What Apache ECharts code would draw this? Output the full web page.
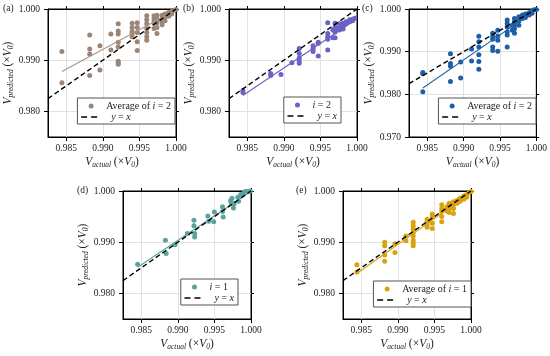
<!DOCTYPE html>
<html><head><meta charset="utf-8">
<script src="https://cdn.jsdelivr.net/npm/echarts@6/dist/echarts.min.js"></script>
<style>html,body{margin:0;padding:0;background:#fff}#c{width:550px;height:356px}</style>
</head><body><div id="c"></div>
<script>
// ---- data ----
const xTickLabels = [0.985, 0.990, 0.995, 1.000];
const yTickLabels = [0.980, 0.990, 1.000];
const yTickLabelsC = [0.970, 0.980, 0.990, 1.000];
const diagLine = [[0.9825, 0.9825], [1.0, 1.0]];

const ptsA = [[0.9844,0.9917],[0.9844,0.9856],
[0.9882,0.9949],[0.9882,0.9922],[0.9882,0.9912],[0.9882,0.9870],
[0.9896,0.9928],[0.9896,0.9881],
[0.9911,0.9951],[0.9911,0.9920],
[0.9921,0.9971],[0.9921,0.9957],[0.9921,0.9951],[0.9921,0.9935],[0.9921,0.9926],[0.9921,0.9898],[0.9921,0.9895],[0.9921,0.9892],
[0.9940,0.9972],[0.9940,0.9964],[0.9940,0.9956],[0.9940,0.9952],[0.9940,0.9946],
[0.9947,0.9973],[0.9947,0.9964],[0.9947,0.9954],[0.9947,0.9936],[0.9947,0.9919],
[0.9960,0.9987],[0.9960,0.9979],[0.9960,0.9971],[0.9960,0.9962],[0.9960,0.9954],[0.9960,0.9946],[0.9960,0.9939],
[0.9970,0.9987],[0.9970,0.9982],[0.9970,0.9977],[0.9970,0.9972],[0.9970,0.9962],
[0.9974,0.9988],[0.9974,0.9980],[0.9974,0.9973],[0.9974,0.9964],[0.9974,0.9952],
[0.9981,0.9988],[0.9981,0.9982],[0.9981,0.9975],[0.9981,0.9969],
[0.9985,0.9990],[0.9985,0.9984],[0.9985,0.9977],
[0.9990,0.9993],[0.9990,0.9986],
[0.9994,0.9995],[0.9994,0.9990],
[0.9997,0.9997],[1.0,0.9999]];
const fitA = [[0.9844,0.9878],[1.0,0.9998]];

const ptsB = [[0.9844,0.9841],[0.9844,0.9837],
[0.9882,0.9874],[0.9882,0.9870],
[0.9896,0.9872],
[0.9911,0.9895],
[0.9921,0.9923],[0.9921,0.9913],[0.9921,0.9904],[0.9921,0.9898],[0.9921,0.9894],
[0.9940,0.9928],[0.9940,0.9923],[0.9940,0.9917],
[0.9947,0.9935],[0.9947,0.9933],[0.9947,0.9908],
[0.9960,0.9973],[0.9960,0.9952],[0.9960,0.9946],[0.9960,0.9941],[0.9960,0.9920],
[0.9967,0.9959],[0.9967,0.9944],
[0.9970,0.9972],[0.9970,0.9965],[0.9970,0.9960],[0.9970,0.9955],[0.9970,0.9944],
[0.9976,0.9971],[0.9976,0.9964],[0.9976,0.9959],
[0.9981,0.9972],[0.9981,0.9967],[0.9981,0.9961],
[0.9985,0.9975],[0.9985,0.9971],
[0.9990,0.9979],[0.9990,0.9975],
[0.9994,0.9980],[0.9994,0.9977],
[0.9997,0.9982]];
const fitB = [[0.9844,0.9831],[1.0,0.9981]];

const ptsC = [[0.9844,0.9851],[0.9844,0.9848],[0.9844,0.9806],
[0.9882,0.9895],[0.9882,0.9872],[0.9882,0.9866],[0.9882,0.9830],
[0.9896,0.9876],[0.9896,0.9838],
[0.9911,0.9906],[0.9911,0.9878],
[0.9921,0.9936],[0.9921,0.9923],[0.9921,0.9911],[0.9921,0.9893],[0.9921,0.9877],[0.9921,0.9859],
[0.9940,0.9943],[0.9940,0.9935],[0.9940,0.9929],[0.9940,0.9911],[0.9940,0.9903],
[0.9947,0.9950],[0.9947,0.9937],[0.9947,0.9927],[0.9947,0.9901],
[0.9960,0.9974],[0.9960,0.9966],[0.9960,0.9958],[0.9960,0.9946],[0.9960,0.9939],[0.9960,0.9911],
[0.9967,0.9962],[0.9967,0.9950],
[0.9970,0.9978],[0.9970,0.9970],[0.9970,0.9962],[0.9970,0.9954],[0.9970,0.9943],
[0.9976,0.9982],[0.9976,0.9972],[0.9976,0.9962],
[0.9981,0.9986],[0.9981,0.9978],
[0.9985,0.9988],[0.9985,0.9980],
[0.9990,0.9991],[0.9990,0.9986],
[0.9994,0.9995],[0.9994,0.9990],
[0.9997,0.9998],[1.0,0.9999]];
const fitC = [[0.9844,0.9815],[1.0,0.9998]];

const ptsD = [[0.9845,0.9857],[0.9883,0.9904],[0.9884,0.9878],[0.9896,0.9895],[0.9913,0.9917],
[0.9922,0.9943],[0.9922,0.9932],[0.9923,0.9917],[0.9923,0.9910],
[0.9941,0.9951],[0.9942,0.9941],[0.9949,0.9940],[0.9950,0.9959],
[0.9961,0.9969],[0.9961,0.9960],[0.9962,0.9949],
[0.9972,0.9981],[0.9974,0.9986],[0.9973,0.9977],[0.9976,0.9967],[0.9977,0.9975],
[0.9982,0.9988],[0.9983,0.9980],[0.9986,0.9993],[0.9989,0.9994],[0.9991,0.9998],
[0.9993,0.9999],[0.9996,0.9999],[0.9999,1.0]];
const fitD = [[0.9845,0.9851],[1.0,0.9999]];

const ptsE = [[0.9844,0.9856],[0.9844,0.9842],
[0.9882,0.9900],[0.9882,0.9893],[0.9882,0.9875],[0.9882,0.9863],
[0.9896,0.9897],[0.9896,0.9880],
[0.9911,0.9912],[0.9911,0.9903],
[0.9921,0.9939],[0.9921,0.9932],[0.9921,0.9926],[0.9921,0.9919],[0.9921,0.9912],[0.9921,0.9904],[0.9921,0.9898],[0.9921,0.9893],
[0.9940,0.9945],[0.9940,0.9940],[0.9940,0.9934],[0.9940,0.9929],
[0.9947,0.9955],[0.9947,0.9949],[0.9947,0.9937],[0.9947,0.9927],
[0.9960,0.9973],[0.9960,0.9966],[0.9960,0.9960],[0.9960,0.9950],[0.9960,0.9940],
[0.9967,0.9969],[0.9967,0.9961],
[0.9970,0.9976],[0.9970,0.9971],[0.9970,0.9965],[0.9970,0.9958],
[0.9976,0.9979],[0.9976,0.9973],[0.9976,0.9966],[0.9976,0.9956],
[0.9981,0.9982],[0.9981,0.9976],
[0.9985,0.9986],[0.9985,0.9980],
[0.9990,0.9990],[0.9990,0.9984],
[0.9994,0.9993],[0.9994,0.9988],
[0.9997,0.9996],[1.0,0.9999]];
const fitE = [[0.9844,0.9839],[1.0,0.9997]];

// ---- layout / style ----
const F = 'Liberation Serif';
const TXT = '#222';
const panels = [
  {id:'a', left:48,  top:9,   pts:ptsA, fit:fitA, color:'#9b8576', fitColor:'#ab9383', ymin:0.975, yl:yTickLabels,  leg:'Average of |2', legRight:375, legTop:98},
  {id:'b', left:229, top:9,   pts:ptsB, fit:fitB, color:'#6a62c5', fitColor:'#6a62c5', ymin:0.975, yl:yTickLabels,  leg:'|2', legRight:209, legTop:97},
  {id:'c', left:409, top:9,   pts:ptsC, fit:fitC, color:'#1e5ea6', fitColor:'#1e66ae', ymin:0.970, yl:yTickLabelsC, leg:'Average of |2', legRight:14, legTop:98},
  {id:'d', left:123, top:191, pts:ptsD, fit:fitD, color:'#5aa29e', fitColor:'#5aa29e', ymin:0.975, yl:yTickLabels,  leg:'|1', legRight:312, legTop:279},
  {id:'e', left:343, top:191, pts:ptsE, fit:fitE, color:'#d9a20e', fitColor:'#d9a20e', ymin:0.975, yl:yTickLabels,  leg:'Average of |1', legRight:79, legTop:281}
];
const W = 128, H = 128;

const richName = {
  v: {fontFamily:F, fontSize:11.5, fontStyle:'italic', color:TXT, lineHeight:14},
  s: {fontFamily:F, fontSize:7.5, fontStyle:'italic', color:TXT, lineHeight:7, verticalAlign:'bottom'},
  n: {fontFamily:F, fontSize:11.5, color:TXT, lineHeight:14}
};
const xName = '{v|V}{s|actual}{n| (×}{v|V}{s|0}{n|)}';
const yName = '{v|V}{s|predicted}{n| (×}{v|V}{s|0}{n|)}';
const richLeg = {
  n: {fontFamily:F, fontSize:10, color:TXT},
  i: {fontFamily:F, fontSize:10, fontStyle:'italic', color:TXT},
  p: {fontFamily:F, fontSize:10, fontStyle:'italic', color:TXT, padding:[0,0,0,5]}
};

const grid = [], xAxis = [], yAxis = [], series = [], legend = [], graphic = [];
panels.forEach((p, gi) => {
  grid.push({left:p.left, top:p.top, width:W, height:H, show:true, borderColor:'#000', borderWidth:1, backgroundColor:'transparent'});
  const lblStyle = {fontFamily:F, fontSize:9.5, color:TXT};
  xAxis.push({type:'value', gridIndex:gi, min:0.9825, max:1.0, interval:0.0025,
    axisLine:{show:true, onZero:false, lineStyle:{color:'#000', width:1}},
    axisTick:{show:true, inside:false, length:4, customValues:xTickLabels, lineStyle:{color:'#000'}},
    axisLabel:Object.assign({customValues:xTickLabels, margin:6, formatter:v=>v.toFixed(3)}, lblStyle),
    splitLine:{show:true, lineStyle:{color:'#e2e2e2', width:1}},
    name:xName, nameLocation:'middle', nameGap:18, nameTextStyle:{rich:richName}});
  xAxis.push({type:'value', gridIndex:gi, position:'top', min:0.9825, max:1.0, interval:0.0025,
    axisLine:{show:true, onZero:false, lineStyle:{color:'#000', width:1}},
    axisTick:{show:true, inside:false, length:3, customValues:xTickLabels, lineStyle:{color:'#000'}},
    axisLabel:{show:false}, splitLine:{show:false}});
  yAxis.push({type:'value', gridIndex:gi, min:p.ymin, max:1.0, interval:0.005,
    axisLine:{show:true, onZero:false, lineStyle:{color:'#000', width:1}},
    axisTick:{show:true, inside:false, length:4, customValues:p.yl, lineStyle:{color:'#000'}},
    axisLabel:Object.assign({customValues:p.yl, margin:8, formatter:v=>v.toFixed(3)}, lblStyle),
    splitLine:{show:true, lineStyle:{color:'#e2e2e2', width:1}},
    name:yName, nameLocation:'middle', nameGap:29, nameRotate:90, nameTextStyle:{rich:richName}});
  yAxis.push({type:'value', gridIndex:gi, position:'right', min:p.ymin, max:1.0, interval:0.005,
    axisLine:{show:true, onZero:false, lineStyle:{color:'#000', width:1}},
    axisTick:{show:true, inside:false, length:3, customValues:p.yl, lineStyle:{color:'#000'}},
    axisLabel:{show:false}, splitLine:{show:false}});
  const xi = gi*2, yi = gi*2;
  series.push({name:'s'+p.id, type:'scatter', xAxisIndex:xi, yAxisIndex:yi, data:p.pts,
    symbolSize:5, itemStyle:{color:p.color, opacity:1}, z:3, silent:true});
  series.push({name:'fit'+p.id, type:'line', xAxisIndex:xi, yAxisIndex:yi, data:p.fit,
    symbol:'none', lineStyle:{color:p.fitColor, width:1.1}, z:4, silent:true});
  series.push({name:'diag', type:'line', xAxisIndex:xi, yAxisIndex:yi, data:diagLine,
    symbol:'none', lineStyle:{color:'#000', width:1.4, type:[5,3]}, itemStyle:{color:'#000'}, z:5, silent:true});
  const parts = p.leg.split('|');
  const legTxt = (parts[0] ? '{n|' + parts[0] + '}' : '') + '{i|i}{n| = ' + parts[1] + '}';
  legend.push({orient:'vertical', right:p.legRight, top:p.legTop, padding:[3,4,2,3], itemGap:1,
    itemWidth:20, itemHeight:5, backgroundColor:'#fff', borderColor:'#555', borderWidth:1,
    selectedMode:false,
    data:[{name:'s'+p.id},
          {name:'diag', itemStyle:{color:'rgba(0,0,0,0)', opacity:0, borderWidth:0},
           lineStyle:{color:'#000', width:1.4, type:[6,4]}}],
    formatter: n => n === 'diag' ? '{p|y}{n| = }{i|x}' : legTxt,
    textStyle:{fontFamily:F, fontSize:10, color:TXT, rich:richLeg}});
});

const labelPos = {a:[3,9], b:[183,9], c:[362,9], d:[77,191], e:[296,191]};
Object.keys(labelPos).forEach(k => {
  graphic.push({type:'text', left:labelPos[k][0], top:labelPos[k][1]-6,
    style:{text:'(' + k + ')', fontFamily:F, fontSize:9.5, fill:TXT}});
});

const chart = echarts.init(document.getElementById('c'), null, {renderer:'canvas'});
chart.setOption({animation:false, backgroundColor:'#fff', grid, xAxis, yAxis, series, legend, graphic});
</script></body></html>
